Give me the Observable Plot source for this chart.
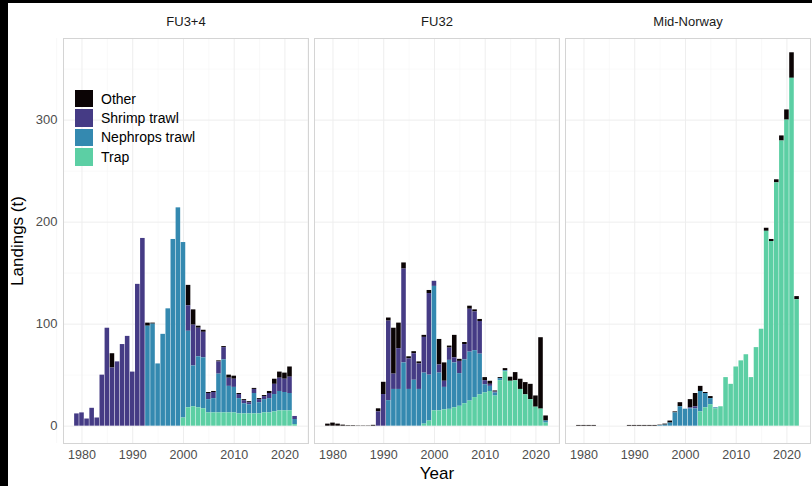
<!DOCTYPE html>
<html>
<head>
<meta charset="utf-8">
<script src="https://cdn.jsdelivr.net/npm/d3@7"></script>
<script src="https://cdn.jsdelivr.net/npm/@observablehq/plot@0.6"></script>
<style>
  html, body { margin: 0; padding: 0; }
  body { width: 812px; height: 486px; background: #000; position: relative; overflow: hidden;
         font-family: "Liberation Sans", Arial, sans-serif; }
  #chart { position: absolute; left: 8px; top: 3px; width: 804px; height: 483px; background: #fff; }
  #legend { position: absolute; left: 75px; top: 89px; font-size: 14px; color: #000; }
  .row { display: flex; align-items: center; height: 19.4px; }
  .key { width: 18px; height: 17.5px; margin-right: 8px; }
</style>
</head>
<body>
<div id="chart"></div>
<div id="legend"></div>
<script>
const regions = ["FU3+4", "FU32", "Mid-Norway"];
const gears = ["Other", "Shrimp trawl", "Nephrops trawl", "Trap"];
const gearColors = ["#0b0405", "#453b85", "#3489b0", "#5ccfa4"];
const years = [1979,1980,1981,1982,1983,1984,1985,1986,1987,1988,1989,1990,1991,1992,1993,1994,1995,1996,1997,1998,1999,2000,2001,2002,2003,2004,2005,2006,2007,2008,2009,2010,2011,2012,2013,2014,2015,2016,2017,2018,2019,2020,2021,2022];
const yTicks = [0, 100, 200, 300];
const xTicks = [1980, 1990, 2000, 2010, 2020];

// FU3+4
const fu34Other    = [0,0,0,0,0,0,0,14,0,0,0,0,0,0,3,1,0,0,0,0,0,0,20,15,2,2,1,1,1,1,3,3,1,1,1,1,1,1,2,5,6,6,10,0];
const fu34Shrimp   = [12,13,7,17.5,8,50,96,57,63,80,88,53,139,184,0,0,0,0,0,0,0,0,25,40,28,25,6,6,12,12,8,8,4,3,2,4,3,3,5,10,13,13,16,3];
const fu34Nephrops = [0,0,0,0,0,0,0,0,0,0,0,0,0,0,98,100,61,90,115,183,214,172,75,40,50,50,13,14,38,52,26,25,15,10,9,20,11,13,14,17,19,18,17,5];
const fu34Trap     = [0,0,0,0,0,0,0,0,0,0,0,0,0,0,0,0,0,0,0,0,0,8,18,19,18,17,13,13,13,13,13,13,12,12,12,12,12,13,13,14,15,15,15,1.5];

// FU32
const fu32Other    = [2,3,2,1,0.5,0.5,0.3,0.3,0.3,0.8,3,12,3,45,25,6,2,2,2,2,3,0,25,18,2,22,2,2,3,2,2,3,3,1,1,2,4,8,10,12,15,11,70,5];
const fu32Shrimp   = [0,0,0,0,0,0,0,0,0,0,14,31,78,15,40,92,30,26,25,35,80,5,8,6,12,5,12,15,42,38,32,4,2,1,0,0,0,0,0,0,0,0,0,0];
const fu32Nephrops = [0,0,0,0,0,0,0,0,0,0,0,0,25,36,36,62,36,45,36,50,45,122,37,22,48,44,32,43,48,46,40,8,5,3,2,1,0,0,0,0,0,0,0,2];
const fu32Trap     = [0,0,0,0,0,0,0,0,0,0,0,0,0,0,0,0,0,0,0,2,5,15,15,16,16.5,18,19.5,22,24.6,28,30.6,32.6,34,29.5,44.6,53.4,44,44.5,36,30.7,26,18.6,16.7,3];

// Mid-Norway
const midOther     = [0.7,0.7,0.7,0.7,0,0,0,0,0,0,0.7,0.7,0.7,0.7,0.7,0.7,0.5,1,2,1,4,0,8,13,5,1,2,0,0,0,0,0,0,0,0,0,0,3,2,3,5,10,25,3];
const midShrimp    = [0,0,0,0,0,0,0,0,0,0,0,0,0,0,0,0,0,0,0,0,0,0,1,2,0,0,0,0,0,0,0,0,0,0,0,0,0,0,0,0,0,0,0,0];
const midNephrops  = [0,0,0,0,0,0,0,0,0,0,0,0,0,0,0,0,0.5,1,3,13,19,16.6,17,17,20,14,6,1,0,0,0,0,0,0,0,0,0,0,0,0,0,0,0,0];
const midTrap      = [0,0,0,0,0,0,0,0,0,0,0,0,0,0,0,0,0,0,0,0,0,0,0,0,14,18,21,17,19,47.6,41,58,64,70,47.6,77,95,191,181,238.5,279.5,300,341,124];

const series = {
  "FU3+4": [fu34Other, fu34Shrimp, fu34Nephrops, fu34Trap],
  "FU32": [fu32Other, fu32Shrimp, fu32Nephrops, fu32Trap],
  "Mid-Norway": [midOther, midShrimp, midNephrops, midTrap]
};

const data = [];
for (const r of regions) {
  series[r].forEach((vals, gi) => {
    vals.forEach((v, i) => {
      if (v > 0) data.push({region: r, gear: gears[gi], year: years[i], value: v});
    });
  });
}

const chart = Plot.plot({
  width: 804,
  height: 483,
  marginTop: 35,
  marginBottom: 43,
  marginLeft: 54,
  marginRight: 0,
  fx: {domain: regions, padding: 0.022, label: null},
  x: {domain: [1976.355, 2024.645], label: null},
  y: {domain: [-17, 380], label: null},
  color: {domain: gears, range: gearColors},
  style: {fontFamily: "'Liberation Sans', Arial, sans-serif", background: "white"},
  marks: [
    Plot.gridY({ticks: [50, 150, 250, 350], stroke: "#f5f5f5", strokeOpacity: 1, strokeWidth: 0.6}),
    Plot.gridX({ticks: [1975, 1985, 1995, 2005, 2015], stroke: "#f5f5f5", strokeOpacity: 1, strokeWidth: 0.6}),
    Plot.gridY({ticks: yTicks, stroke: "#eeeeee", strokeOpacity: 1, strokeWidth: 1}),
    Plot.gridX({ticks: xTicks, stroke: "#eeeeee", strokeOpacity: 1, strokeWidth: 1}),
    Plot.rectY(data, Plot.stackY({
      fx: "region",
      x1: d => d.year - 0.45,
      x2: d => d.year + 0.45,
      y: "value",
      fill: "gear",
      order: ["Trap", "Nephrops trawl", "Shrimp trawl", "Other"]
    })),
    Plot.frame({stroke: "#d4d4d4", strokeWidth: 1}),
    Plot.axisY({ticks: yTicks, tickSize: 0, tickPadding: 6, fontSize: 13, fill: "#4d4d4d", label: null}),
    Plot.axisY({ticks: [], tickSize: 0, label: "Landings (t)", labelAnchor: "center", labelOffset: 53, labelArrow: "none", fontSize: 17, fill: "#000"}),
    Plot.axisX({ticks: xTicks, tickSize: 0, tickPadding: 7, tickFormat: "d", fontSize: 12.5, fill: "#4d4d4d", label: null}),
    Plot.axisFx({anchor: "top", tickSize: 0, tickPadding: 13, fontSize: 13, fill: "#1a1a1a", label: null}),
    Plot.axisFx({anchor: "bottom", ticks: [], tickSize: 0, label: "Year", labelAnchor: "center", labelOffset: 35, labelArrow: "none", fontSize: 17, fill: "#000"})
  ]
});
document.getElementById("chart").appendChild(chart);

const legend = document.getElementById("legend");
gears.forEach((g, i) => {
  const row = document.createElement("div");
  row.className = "row";
  const key = document.createElement("div");
  key.className = "key";
  key.style.background = gearColors[i];
  const label = document.createElement("span");
  label.textContent = g;
  row.appendChild(key);
  row.appendChild(label);
  legend.appendChild(row);
});
</script>
</body>
</html>
